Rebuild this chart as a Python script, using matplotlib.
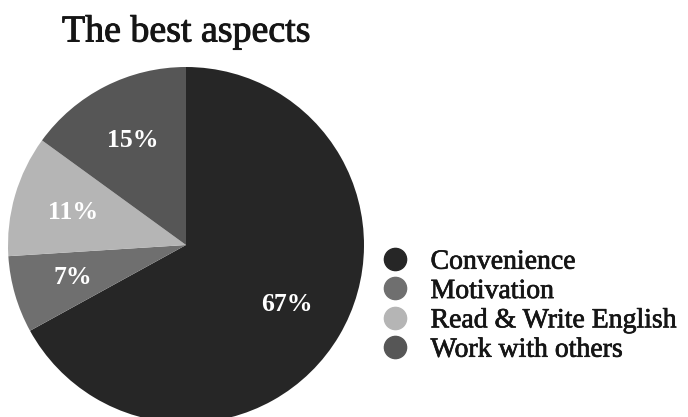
import matplotlib
matplotlib.use("Agg")
import matplotlib.pyplot as plt
import matplotlib.patheffects as pe
from matplotlib.lines import Line2D

labels = ["Convenience", "Motivation", "Read & Write English", "Work with others"]
shares = [67, 7, 11, 15]
colors = ["#262626", "#6f6f6f", "#b5b5b5", "#565656"]

W, H = 688, 417
plt.rcParams["font.family"] = ["Liberation Serif", "DejaVu Serif"]

fig = plt.figure(figsize=(W / 100, H / 100), dpi=100)

# slightly heavier strokes for the thin serif face
thick = [pe.withStroke(linewidth=0.7, foreground="#151515")]

# pie sits in a square axes, centre ~ (186, 245) px from top-left, radius ~178 px
cx, cy, r = 186, H - 245, 178
ax = fig.add_axes([(cx - r) / W, (cy - r) / H, 2 * r / W, 2 * r / H])
wedges, _, autotexts = ax.pie(
    shares, colors=colors, startangle=90, counterclock=False,
    autopct=lambda p: f"{p:.0f}%", pctdistance=0.66,
    textprops=dict(color="white", fontsize=18.5, fontweight="bold"),
    wedgeprops=dict(linewidth=0),
)
ax.set_xlim(-1, 1)
ax.set_ylim(-1, 1)
ax.axis("off")

fig.text(62 / W, 1 - 32 / H, "The best aspects", fontsize=27.3, va="center", ha="left",
         color="#151515", path_effects=thick)

handles = [Line2D([], [], marker="o", linestyle="none", markersize=16,
                  markerfacecolor=c, markeredgecolor=c) for c in colors]
leg = fig.legend(handles, labels, loc="center left", bbox_to_anchor=(370 / W, 1 - 306 / H),
                 frameon=False, fontsize=20, handletextpad=0.78, labelspacing=0.14,
                 handlelength=1.0, borderaxespad=0)
for t in leg.get_texts():
    t.set_color("#151515")
    t.set_path_effects([pe.withStroke(linewidth=0.5, foreground="#151515")])

fig.savefig("out.png", dpi=100)
